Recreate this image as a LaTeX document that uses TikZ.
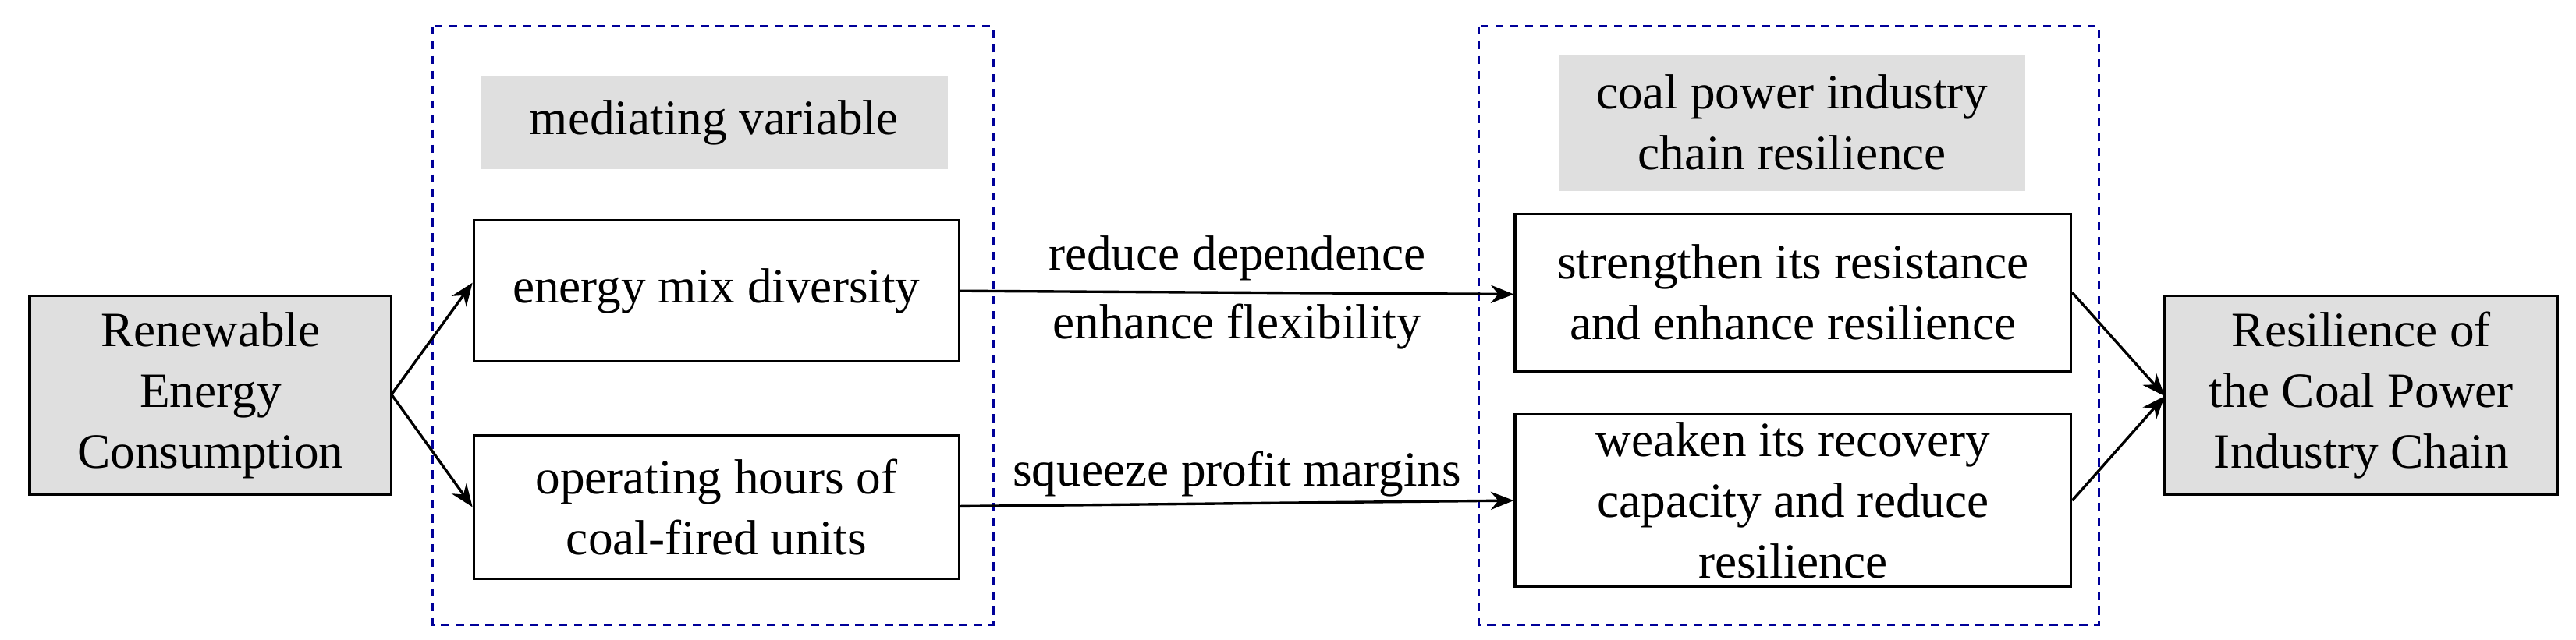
\documentclass[tikz,border=0pt]{standalone}
\usepackage{fontspec}
\setmainfont{Liberation Serif}
\usetikzlibrary{arrows.meta}
\begin{document}
\begin{tikzpicture}[x=1pt,y=-1pt,
  box/.style={draw,line width=1.5pt,align=center,inner sep=0pt},
  gbox/.style={box,fill=gray!25},
  lbl/.style={fill=gray!25,align=center,inner sep=0pt},
  dbox/.style={draw=blue!60!black,line width=1.3pt,dash pattern=on 5pt off 4pt},
  arr/.style={-{Stealth[length=14pt,width=11pt]},line width=1.6pt},
  font=\fontsize{30}{37}\selectfont]
\useasboundingbox (0,0) rectangle (1566,389);
\draw[dbox] (263,16) rectangle (604,380);
\draw[dbox] (899,16) rectangle (1276,380);
\node[gbox,minimum width=220pt,minimum height=121pt] (re) at (128,240.5) {Renewable\\Energy\\Consumption};
\node[lbl,minimum width=284pt,minimum height=57pt] (mv) at (434,74.5) {mediating variable};
\node[box,minimum width=295pt,minimum height=86pt] (em) at (435.5,177) {energy mix diversity};
\node[box,minimum width=295pt,minimum height=87pt] (oh) at (435.5,308.5) {operating hours of\\coal-fired units};
\node[lbl,minimum width=283pt,minimum height=83pt] (cp) at (1089.5,74.5) {coal power industry\\chain resilience};
\node[box,minimum width=338pt,minimum height=96pt] (st) at (1090,178) {strengthen its resistance\\and enhance resilience};
\node[box,minimum width=338pt,minimum height=105pt] (wk) at (1090,304.5) {weaken its recovery\\capacity and reduce\\resilience};
\node[gbox,minimum width=239pt,minimum height=121pt] (rc) at (1435.5,240.5) {Resilience of\\the Coal Power\\Industry Chain};
\coordinate (reo) at (238,240);
\draw[arr] (reo) -- ([yshift=5pt]em.west);
\draw[arr] (reo) -- (oh.west);
\draw[arr] (em.east) -- node[above=3pt] (t1) {reduce dependence} node[below=3pt] (t2) {enhance flexibility} ([yshift=-1pt]st.west);
\draw[arr] ([yshift=0.5pt]oh.east) -- node[above=0pt] (t3) {squeeze profit margins} (wk.west);
\coordinate (rci) at (1316,241);
\draw[arr] (st.east) -- (rci);
\draw[arr] (wk.east) -- (rci);
\end{tikzpicture}
\end{document}
